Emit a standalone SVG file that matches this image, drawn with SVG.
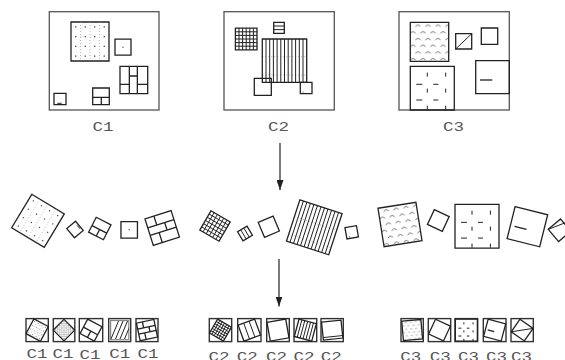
<svg xmlns="http://www.w3.org/2000/svg" width="565" height="360" viewBox="0 0 565 360">
<style>
.s{fill:none;stroke:#222;stroke-width:1.3;vector-effect:non-scaling-stroke}
.so{stroke:#222;stroke-width:1.3;vector-effect:non-scaling-stroke}
.l{fill:none;stroke:#222;stroke-width:1;vector-effect:non-scaling-stroke}
.g{fill:none;stroke:#999;stroke-width:0.7;stroke-dasharray:1 2;vector-effect:non-scaling-stroke}
.d{fill:none;stroke:#333;stroke-width:1.1;vector-effect:non-scaling-stroke}
.fr{fill:none;stroke:#555;stroke-width:1.3}
.bx{fill:none;stroke:#333;stroke-width:1.4}
.lb{font-family:"Liberation Mono","DejaVu Sans Mono",monospace;font-size:13.5px;fill:#555;text-anchor:middle}
.ar{stroke:#222;stroke-width:1.2;fill:none}
</style>
<defs>
<marker id="ah" markerUnits="userSpaceOnUse" markerWidth="10" markerHeight="7" refX="10" refY="3.5" orient="auto">
<path d="M0 0L10 3.5L0 7Z" fill="#222"/>
</marker>
<pattern id="pWave" patternUnits="userSpaceOnUse" width="10" height="13.4">
<path d="M1 5Q3.5 1.5 6 5M6 11.7Q8.5 8.2 11 11.7M-4 11.7Q-1.5 8.2 1 11.7" fill="none" stroke="#444" stroke-width="0.8"/>
</pattern>
<pattern id="pHatch" patternUnits="userSpaceOnUse" width="3" height="3">
<path d="M0 0L3 3M3 0L0 3" stroke="#999" stroke-width="0.6"/>
</pattern>
<g id="c1a">
<rect class="s" x="-19" y="-19.5" width="38" height="39"/>
<path class="g" d="M-9.5 -19.5V19.5M0 -19.5V19.5M9.5 -19.5V19.5"/>
<path class="d" d="M-14.85 -14.6h1.2M-5.35 -14.6h1.2M4.15 -14.6h1.2M13.65 -14.6h1.2M-14.85 -4.9h1.2M-5.35 -4.9h1.2M4.15 -4.9h1.2M13.65 -4.9h1.2M-14.85 4.9h1.2M-5.35 4.9h1.2M4.15 4.9h1.2M13.65 4.9h1.2M-14.85 14.6h1.2M-5.35 14.6h1.2M4.15 14.6h1.2M13.65 14.6h1.2"/>
</g>
<g id="c1b"><rect class="s" x="-8" y="-8" width="16" height="16"/><path class="d" d="M-0.6 0h1.2"/></g>
<g id="c1c"><rect class="s" x="-13.85" y="-13.7" width="27.7" height="27.4"/><path class="s" d="M-4.5 -13.7V13.7M3.5 -13.7V13.7M-13.85 4.3H-4.5M3.5 4.3H13.85M-4.5 -4H3.5"/></g>
<g id="c1d"><rect class="s" x="-8.3" y="-8.35" width="16.6" height="16.7"/><path class="s" d="M-8.3 1H8.3M0.3 1V8.35"/></g>
<g id="c1e"><rect class="s" x="-6" y="-5.7" width="12" height="11.4"/><path class="l" d="M-2.7 4.3H1.7"/></g>
<g id="c2a"><rect class="s" x="-10.8" y="-10.8" width="21.6" height="21.6"/><path class="l" d="M-7.2 -10.8V10.8M-3.6 -10.8V10.8M0 -10.8V10.8M3.6 -10.8V10.8M7.2 -10.8V10.8M-10.8 -7.2H10.8M-10.8 -3.6H10.8M-10.8 0H10.8M-10.8 3.6H10.8M-10.8 7.2H10.8"/></g>
<g id="c2b"><rect class="s" x="-5.3" y="-5.5" width="10.6" height="11"/><path class="l" d="M-5.3 -1.8H5.3M-5.3 1.8H5.3"/></g>
<g id="c2c"><path class="g" d="M-22.2 -4H22.2M-22.2 14.3H22.2"/><rect class="s" x="-22.2" y="-21.65" width="44.4" height="43.3"/><path class="l" d="M-18.5 -21.65V21.65M-14.8 -21.65V21.65M-11.1 -21.65V21.65M-7.4 -21.65V21.65M-3.7 -21.65V21.65M0 -21.65V21.65M3.7 -21.65V21.65M7.4 -21.65V21.65M11.1 -21.65V21.65M14.8 -21.65V21.65M18.5 -21.65V21.65"/></g>
<g id="c2d"><rect class="s" x="-8.5" y="-8.5" width="17" height="17"/></g>
<g id="c2e"><rect class="s" x="-5.85" y="-5.7" width="11.7" height="11.4"/><path class="d" d="M-3.5 4h0.8"/></g>
<g id="c3a"><rect class="so" x="-19.2" y="-19.5" width="38.4" height="39" fill="url(#pWave)"/></g>
<g id="c3b"><rect class="s" x="-8" y="-7.65" width="16" height="15.3"/><path class="l" d="M-8 7.65L8 -7.65"/></g>
<g id="c3c"><rect class="s" x="-8.2" y="-8.15" width="16.4" height="16.3"/></g>
<g id="c3d"><rect class="s" x="-22" y="-21.85" width="44" height="43.7"/><path class="l" d="M-5 -15.5V-11.5M-5 0.5V4.5M-5 17.5V21.5M13.4 -15.5V-11.5M13.4 0.5V4.5M13.4 17.5V21.5M-16 -3.85H-10M1 -3.85H6M-16 11.85H-10M1 11.85H6"/></g>
<g id="c3e"><rect class="s" x="-16.8" y="-16.5" width="33.6" height="33"/><path class="s" d="M-12.5 2.8H-0.2"/></g>
<clipPath id="cb4"><rect x="110.6" y="320.5" width="18.2" height="19.2"/></clipPath>
</defs>

<g id="panel-c1">
<rect class="fr" x="49.3" y="11.7" width="109.7" height="98.3"/>
<use href="#c1a" transform="translate(90,41.5)"/>
<use href="#c1b" transform="translate(123,47.2)"/>
<use href="#c1c" transform="translate(133.85,80)"/>
<use href="#c1d" transform="translate(101,96.35)"/>
<use href="#c1e" transform="translate(60,99)"/>
<text class="lb" transform="translate(103,130.5) scale(1.3,1)">C1</text>
</g>
<g id="panel-c2">
<rect class="fr" x="224" y="11.7" width="110.3" height="98.3"/>
<use href="#c2a" transform="translate(246.2,39)"/>
<use href="#c2b" transform="translate(279,27.8)"/>
<use href="#c2c" transform="translate(284.5,60.65)"/>
<use href="#c2d" transform="translate(262.8,86.8)"/>
<use href="#c2e" transform="translate(306.15,88)"/>
<text class="lb" transform="translate(278.5,130.5) scale(1.3,1)">C2</text>
</g>
<g id="panel-c3">
<rect class="fr" x="399" y="11.7" width="110.3" height="98.3"/>
<use href="#c3a" transform="translate(429.5,41.8)"/>
<use href="#c3b" transform="translate(463.7,41.35)"/>
<use href="#c3c" transform="translate(489.5,36.15)"/>
<use href="#c3d" transform="translate(432.3,88.15)"/>
<use href="#c3e" transform="translate(492.5,77.2)"/>
<text class="lb" transform="translate(453.5,130.5) scale(1.3,1)">C3</text>
</g>

<g id="connectors">
<line class="ar" x1="280" y1="143" x2="280" y2="190" marker-end="url(#ah)"/>
<line class="ar" x1="279" y1="259" x2="279" y2="306.5" marker-end="url(#ah)"/>
</g>

<g id="mid-c1">
<use href="#c1a" transform="translate(38,220.8) rotate(31)"/>
<use href="#c1e" transform="translate(75,229.5) rotate(-130)"/>
<use href="#c1d" transform="translate(99.8,228.5) rotate(27)"/>
<use href="#c1b" transform="translate(129.2,229.8) scale(1.03)"/>
<use href="#c1c" transform="translate(162.2,228) rotate(72.5)"/>
</g>
<g id="mid-c2">
<use href="#c2a" transform="translate(215,226) rotate(30) scale(1.03)"/>
<use href="#c2b" transform="translate(245,233.5) rotate(59)"/>
<use href="#c2d" transform="translate(268.8,226.7) rotate(-23) scale(0.95)"/>
<use href="#c2c" transform="translate(314.3,227.3) rotate(18)"/>
<use href="#c2e" transform="translate(351.7,232.3) rotate(-10)"/>
</g>
<g id="mid-c3">
<use href="#c3a" transform="translate(400,224.5) rotate(-9)"/>
<use href="#c3c" transform="translate(438.3,220.5) rotate(25)"/>
<use href="#c3d" transform="translate(477,226.2)"/>
<use href="#c3e" transform="translate(527.4,226.7) rotate(14)"/>
<g transform="translate(548.3,229.3) rotate(-40)"><rect class="s" x="0" y="0" width="16" height="16"/></g>
<path class="l" d="M548.3 229.3L566 222.5"/>
</g>

<g id="bot-c1">
<g id="b1-1"><rect class="bx" x="26" y="318.6" width="22.3" height="23"/><use href="#c1a" transform="translate(37.15,330.1) rotate(28) scale(0.43)"/><text class="lb" transform="translate(37,357.7) scale(1.3,1)">C1</text></g>
<g id="b1-2"><rect class="bx" x="53.3" y="318.6" width="21.5" height="23"/><g transform="translate(64,330.1) rotate(45)"><rect class="so" x="-7.6" y="-7.6" width="15.2" height="15.2" fill="url(#pHatch)"/></g><text class="lb" transform="translate(63.1,357.7) scale(1.3,1)">C1</text></g>
<g id="b1-3"><rect class="bx" x="79.3" y="318.6" width="23.4" height="23"/><use href="#c1d" transform="translate(91,330.1) rotate(28) scale(0.97)"/><text class="lb" transform="translate(90.1,358.7) scale(1.3,1)">C1</text></g>
<g id="b1-4"><rect class="bx" x="108.7" y="318.6" width="22" height="23"/><rect x="110.6" y="320.5" width="18.2" height="19.2" fill="none" stroke="#888" stroke-width="1.2"/><path class="l" clip-path="url(#cb4)" d="M111 339L118.5 321M115.5 339L123 321M120 339L127.5 321M124.5 339L132 321"/><text class="lb" transform="translate(119.8,357.7) scale(1.3,1)">C1</text></g>
<g id="b1-5"><rect class="bx" x="136" y="318.6" width="22" height="23"/><use href="#c1c" transform="translate(147,330.1) rotate(78) scale(0.65)"/><text class="lb" transform="translate(148.1,357.7) scale(1.3,1)">C1</text></g>
</g>

<g id="bot-c2">
<g id="b2-1"><rect class="bx" x="209.3" y="318.6" width="22.4" height="23"/><use href="#c2a" transform="translate(220.5,330.1) rotate(30) scale(0.74)"/><text class="lb" transform="translate(219.1,361) scale(1.3,1)">C2</text></g>
<g id="b2-2"><rect class="bx" x="237.7" y="318.6" width="23.3" height="23"/><use href="#c2b" transform="translate(249.3,330.1) rotate(70) scale(1.6)"/><text class="lb" transform="translate(247.3,361) scale(1.3,1)">C2</text></g>
<g id="b2-3"><rect class="bx" x="266.7" y="318.6" width="22.6" height="23"/><g transform="translate(278,330.1) rotate(-10)"><rect class="s" x="-9.5" y="-9.5" width="19" height="19"/></g><text class="lb" transform="translate(276.6,361) scale(1.3,1)">C2</text></g>
<g id="b2-4"><rect class="bx" x="294" y="318.6" width="22.7" height="23"/><g transform="translate(305.35,330.1) rotate(15)"><rect class="s" x="-9" y="-9" width="18" height="18"/><path class="l" d="M-6 -9V9M-3 -9V9M0 -9V9M3 -9V9M6 -9V9"/></g><text class="lb" transform="translate(304.1,361) scale(1.3,1)">C2</text></g>
<g id="b2-5"><rect class="bx" x="321" y="318.6" width="22.3" height="23"/><g transform="translate(332.2,330.1) rotate(-6)"><rect class="s" x="-9.8" y="-9" width="19.6" height="18"/><path class="l" d="M-9.8 6.5H9.8"/></g><text class="lb" transform="translate(331.3,361) scale(1.3,1)">C2</text></g>
</g>

<g id="bot-c3">
<g id="b3-1"><rect class="bx" x="401" y="318.6" width="22.3" height="23"/><use href="#c3a" transform="translate(412.15,330.1) rotate(-5) scale(0.5)"/><text class="lb" transform="translate(410.8,360.5) scale(1.3,1)">C3</text></g>
<g id="b3-2"><rect class="bx" x="428.3" y="318.6" width="22.4" height="23"/><use href="#c3c" transform="translate(439.5,330.1) rotate(25)"/><text class="lb" transform="translate(440.3,360.5) scale(1.3,1)">C3</text></g>
<g id="b3-3"><rect class="bx" x="455" y="318.6" width="22.7" height="23"/><use href="#c3d" transform="translate(466.35,330.1) scale(0.5)"/><text class="lb" transform="translate(468.6,360.5) scale(1.3,1)">C3</text></g>
<g id="b3-4"><rect class="bx" x="483.3" y="318.6" width="22.7" height="23"/><use href="#c3e" transform="translate(494.65,330.1) rotate(15) scale(0.54)"/><text class="lb" transform="translate(496.5,360.5) scale(1.3,1)">C3</text></g>
<g id="b3-5"><rect class="bx" x="511" y="318.6" width="22.3" height="23"/><use href="#c3b" transform="translate(522.15,330.1) rotate(35)"/><text class="lb" transform="translate(521.6,360.5) scale(1.3,1)">C3</text></g>
</g>
</svg>
